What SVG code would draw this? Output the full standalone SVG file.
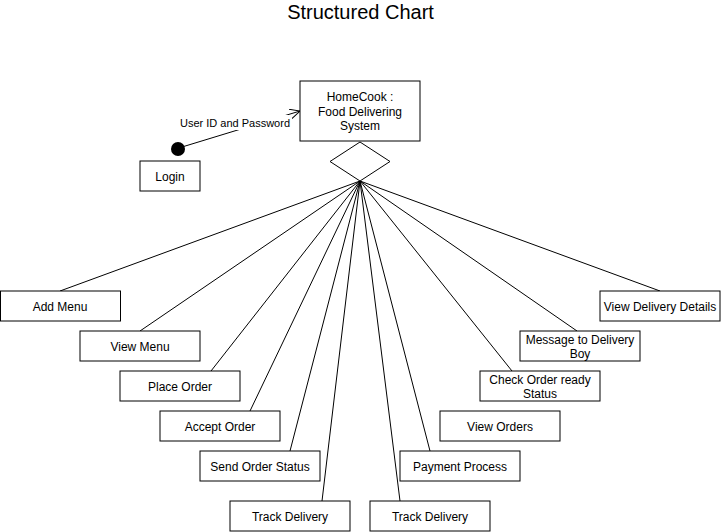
<svg xmlns="http://www.w3.org/2000/svg" width="721" height="532" viewBox="0 0 721 532">
<style>
.box{fill:#fff;stroke:#000;stroke-width:1}
.t{font-family:"Liberation Sans",Arial,sans-serif;font-size:12px;fill:#000;text-anchor:middle}
.c{stroke:#000;stroke-width:1;fill:none}
</style>
<defs>
<marker id="open" markerWidth="12" markerHeight="12" refX="10" refY="5" orient="auto" markerUnits="userSpaceOnUse">
<path d="M0,0 L10,5 L0,10" fill="none" stroke="#000" stroke-width="1"/>
</marker>
</defs>
<rect width="721" height="532" fill="#fff"/>
<text x="360.5" y="19" class="t" style="font-size:20px">Structured Chart</text>
<g id="connectors">
<line class="c" x1="360" y1="181" x2="60" y2="291"/>
<line class="c" x1="360" y1="181" x2="140" y2="331"/>
<line class="c" x1="360" y1="181" x2="211" y2="371"/>
<line class="c" x1="360" y1="181" x2="250" y2="411"/>
<line class="c" x1="360" y1="181" x2="290" y2="451"/>
<line class="c" x1="360" y1="181" x2="322" y2="501"/>
<line class="c" x1="360" y1="181" x2="400" y2="501"/>
<line class="c" x1="360" y1="181" x2="430" y2="451"/>
<line class="c" x1="360" y1="181" x2="512" y2="371"/>
<line class="c" x1="360" y1="181" x2="577" y2="331"/>
<line class="c" x1="360" y1="181" x2="660" y2="291"/>
<line class="c" x1="182" y1="147" x2="300" y2="111" marker-end="url(#open)"/>
<rect x="179" y="115" width="112" height="15" fill="#fff"/>
<text x="235" y="127" class="t" style="font-size:11px">User ID and Password</text>
</g>
<g id="system">
<rect class="box" x="300" y="81" width="120" height="60"/>
<text x="360" y="101" class="t">HomeCook :</text>
<text x="360" y="116" class="t">Food Delivering</text>
<text x="360" y="130" class="t">System</text>
</g>
<g id="diamond">
<polygon class="box" points="360,142 390,161.5 360,181 330,161.5"/>
</g>
<g id="login-dot"><circle cx="178" cy="149" r="7" fill="#000"/></g>
<g id="login"><rect class="box" x="140" y="161" width="60" height="30"/><text x="170" y="181" class="t">Login</text></g>
<g id="add-menu"><rect class="box" x="0.5" y="291" width="120" height="30"/><text x="60" y="311" class="t">Add Menu</text></g>
<g id="view-menu"><rect class="box" x="80" y="331" width="120" height="30"/><text x="140" y="351" class="t">View Menu</text></g>
<g id="place-order"><rect class="box" x="120" y="371" width="120" height="30"/><text x="180" y="391" class="t">Place Order</text></g>
<g id="accept-order"><rect class="box" x="160" y="411" width="120" height="30"/><text x="220" y="431" class="t">Accept Order</text></g>
<g id="send-order-status"><rect class="box" x="200" y="451" width="120" height="30"/><text x="260" y="471" class="t">Send Order Status</text></g>
<g id="track-delivery-1"><rect class="box" x="230" y="501" width="120" height="30"/><text x="290" y="521" class="t">Track Delivery</text></g>
<g id="track-delivery-2"><rect class="box" x="370" y="501" width="120" height="30"/><text x="430" y="521" class="t">Track Delivery</text></g>
<g id="payment-process"><rect class="box" x="400" y="451" width="120" height="30"/><text x="460" y="471" class="t">Payment Process</text></g>
<g id="view-orders"><rect class="box" x="440" y="411" width="120" height="30"/><text x="500" y="431" class="t">View Orders</text></g>
<g id="check-order"><rect class="box" x="480" y="371" width="120" height="30"/><text x="540" y="384" class="t">Check Order ready</text><text x="540" y="398" class="t">Status</text></g>
<g id="message-delivery"><rect class="box" x="520" y="331" width="120" height="30"/><text x="580" y="344" class="t">Message to Delivery</text><text x="580" y="358" class="t">Boy</text></g>
<g id="view-delivery"><rect class="box" x="600" y="291" width="120" height="30"/><text x="660" y="311" class="t">View Delivery Details</text></g>
</svg>
